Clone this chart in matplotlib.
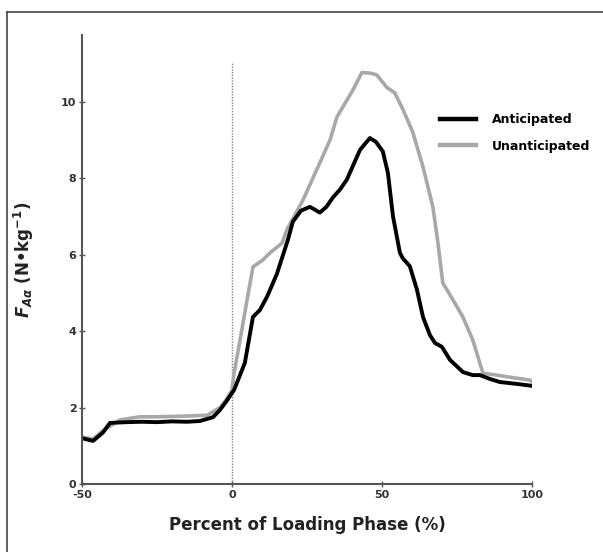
import numpy as np
import matplotlib
matplotlib.use("Agg")
import matplotlib.pyplot as plt
from matplotlib.lines import Line2D

# Percent of loading phase and F_Aa values
x_ant = [-50, -46.3, -43, -40.7, -35, -30, -25, -20, -15, -10.7, -6.3, -4, -2, 0, 0.7,
         4.3, 7, 9.3, 11.7, 15, 18.7, 20.3, 23, 26, 29.3, 31.5, 33.7, 36, 38.3, 42.7, 46,
         48, 50.3, 52, 53.7, 56, 57, 59.3, 61.7, 63.7, 66, 67.7, 70, 72.7, 77, 80.3,
         82.7, 86, 89.3, 95, 100]
y_ant = [1.2, 1.13, 1.35, 1.6, 1.62, 1.63, 1.62, 1.64, 1.63, 1.65, 1.75, 1.94, 2.15, 2.38, 2.46,
         3.17, 4.37, 4.55, 4.9, 5.5, 6.4, 6.86, 7.15, 7.25, 7.1, 7.25, 7.5, 7.7, 7.96, 8.74, 9.05,
         8.95, 8.7, 8.14, 7.0, 6.05, 5.9, 5.7, 5.08, 4.37, 3.9, 3.69, 3.59, 3.25, 2.93, 2.85,
         2.85, 2.75, 2.67, 2.62, 2.57]

x_unant = [-50, -46.3, -43, -37.3, -30.7, -25, -20, -15, -8.3, -4, -2, 0, 0.7, 2.7, 5,
           7, 10.3, 12.7, 16.7, 18.3, 23.7, 29.3, 32.7, 35, 40.3, 43.3, 46, 48.3, 51.7,
           54.3, 57, 60.3, 63.7, 67, 68.7, 70.3, 73.7, 77, 80.3, 83.7, 88.3, 94, 99.3, 100]
y_unant = [1.23, 1.18, 1.4, 1.68, 1.76, 1.76, 1.77, 1.78, 1.8, 2.0, 2.2, 2.46, 2.9, 3.77, 4.8,
           5.68, 5.86, 6.05, 6.3, 6.65, 7.43, 8.4, 9.0, 9.6, 10.3, 10.76, 10.75, 10.7, 10.37,
           10.23, 9.8, 9.2, 8.3, 7.25, 6.3, 5.26, 4.82, 4.37, 3.77, 2.9, 2.85, 2.78, 2.72, 2.68]

x_ticks = [-50, 0, 50, 100]
y_ticks = [0, 2, 4, 6, 8, 10]

plt.rcParams['axes.unicode_minus'] = False
plt.rcParams['mathtext.fontset'] = 'custom'
plt.rcParams['mathtext.it'] = 'DejaVu Sans:italic:bold'
plt.rcParams['mathtext.rm'] = 'DejaVu Sans:bold'
plt.rcParams['mathtext.bf'] = 'DejaVu Sans:bold'

fig = plt.figure(figsize=(6.03, 5.52), dpi=100)
ax = fig.add_axes([0.136, 0.123, 0.746, 0.814])

# dotted line at foot contact
ax.plot([0, 0], [0, 11], color='#888888', lw=1, ls=(0, (1, 1)))

ax.plot(x_unant, y_unant, color='#a8a8a8', lw=2.6, solid_joinstyle='round')
ax.plot(x_ant, y_ant, color='black', lw=2.8, solid_joinstyle='round')

ax.set_xlim(-50, 100)
ax.set_ylim(0, 11.75)
ax.set_xticks(x_ticks)
ax.set_yticks(y_ticks)
for s in ['top', 'right']:
    ax.spines[s].set_visible(False)
for s in ['left', 'bottom']:
    ax.spines[s].set_color('#555555')
    ax.spines[s].set_linewidth(1.5)
ax.tick_params(direction='inout', length=4, width=1, color='#555555',
               labelsize=8, pad=2)
for lab in ax.get_xticklabels() + ax.get_yticklabels():
    lab.set_fontweight('bold')
    lab.set_color('#333333')

ax.set_xlabel('Percent of Loading Phase (%)', fontsize=12, fontweight='bold',
              color='#222222', labelpad=12)
ax.set_ylabel(r'$F_{A\alpha}$ (N•kg$^{-1}$)', fontsize=12, fontweight='bold',
              color='#222222', labelpad=18)

handles = [Line2D([], [], color='black', lw=3.2),
           Line2D([], [], color='#a8a8a8', lw=3.2)]
ax.legend(handles, ['Anticipated', 'Unanticipated'], loc='upper left',
          bbox_to_anchor=(0.77, 0.85), frameon=False, handlelength=2.9,
          handletextpad=1.3, prop={'weight': 'bold', 'size': 9}, labelspacing=1.05)

# frame around the figure
fig.add_artist(Line2D([0.011, 0.011], [0, 0.979], color='#444444', lw=1.2,
                      transform=fig.transFigure))
fig.add_artist(Line2D([0.011, 1], [0.979, 0.979], color='#444444', lw=1.2,
                      transform=fig.transFigure))

fig.savefig('out.png', dpi=100, facecolor='white')
